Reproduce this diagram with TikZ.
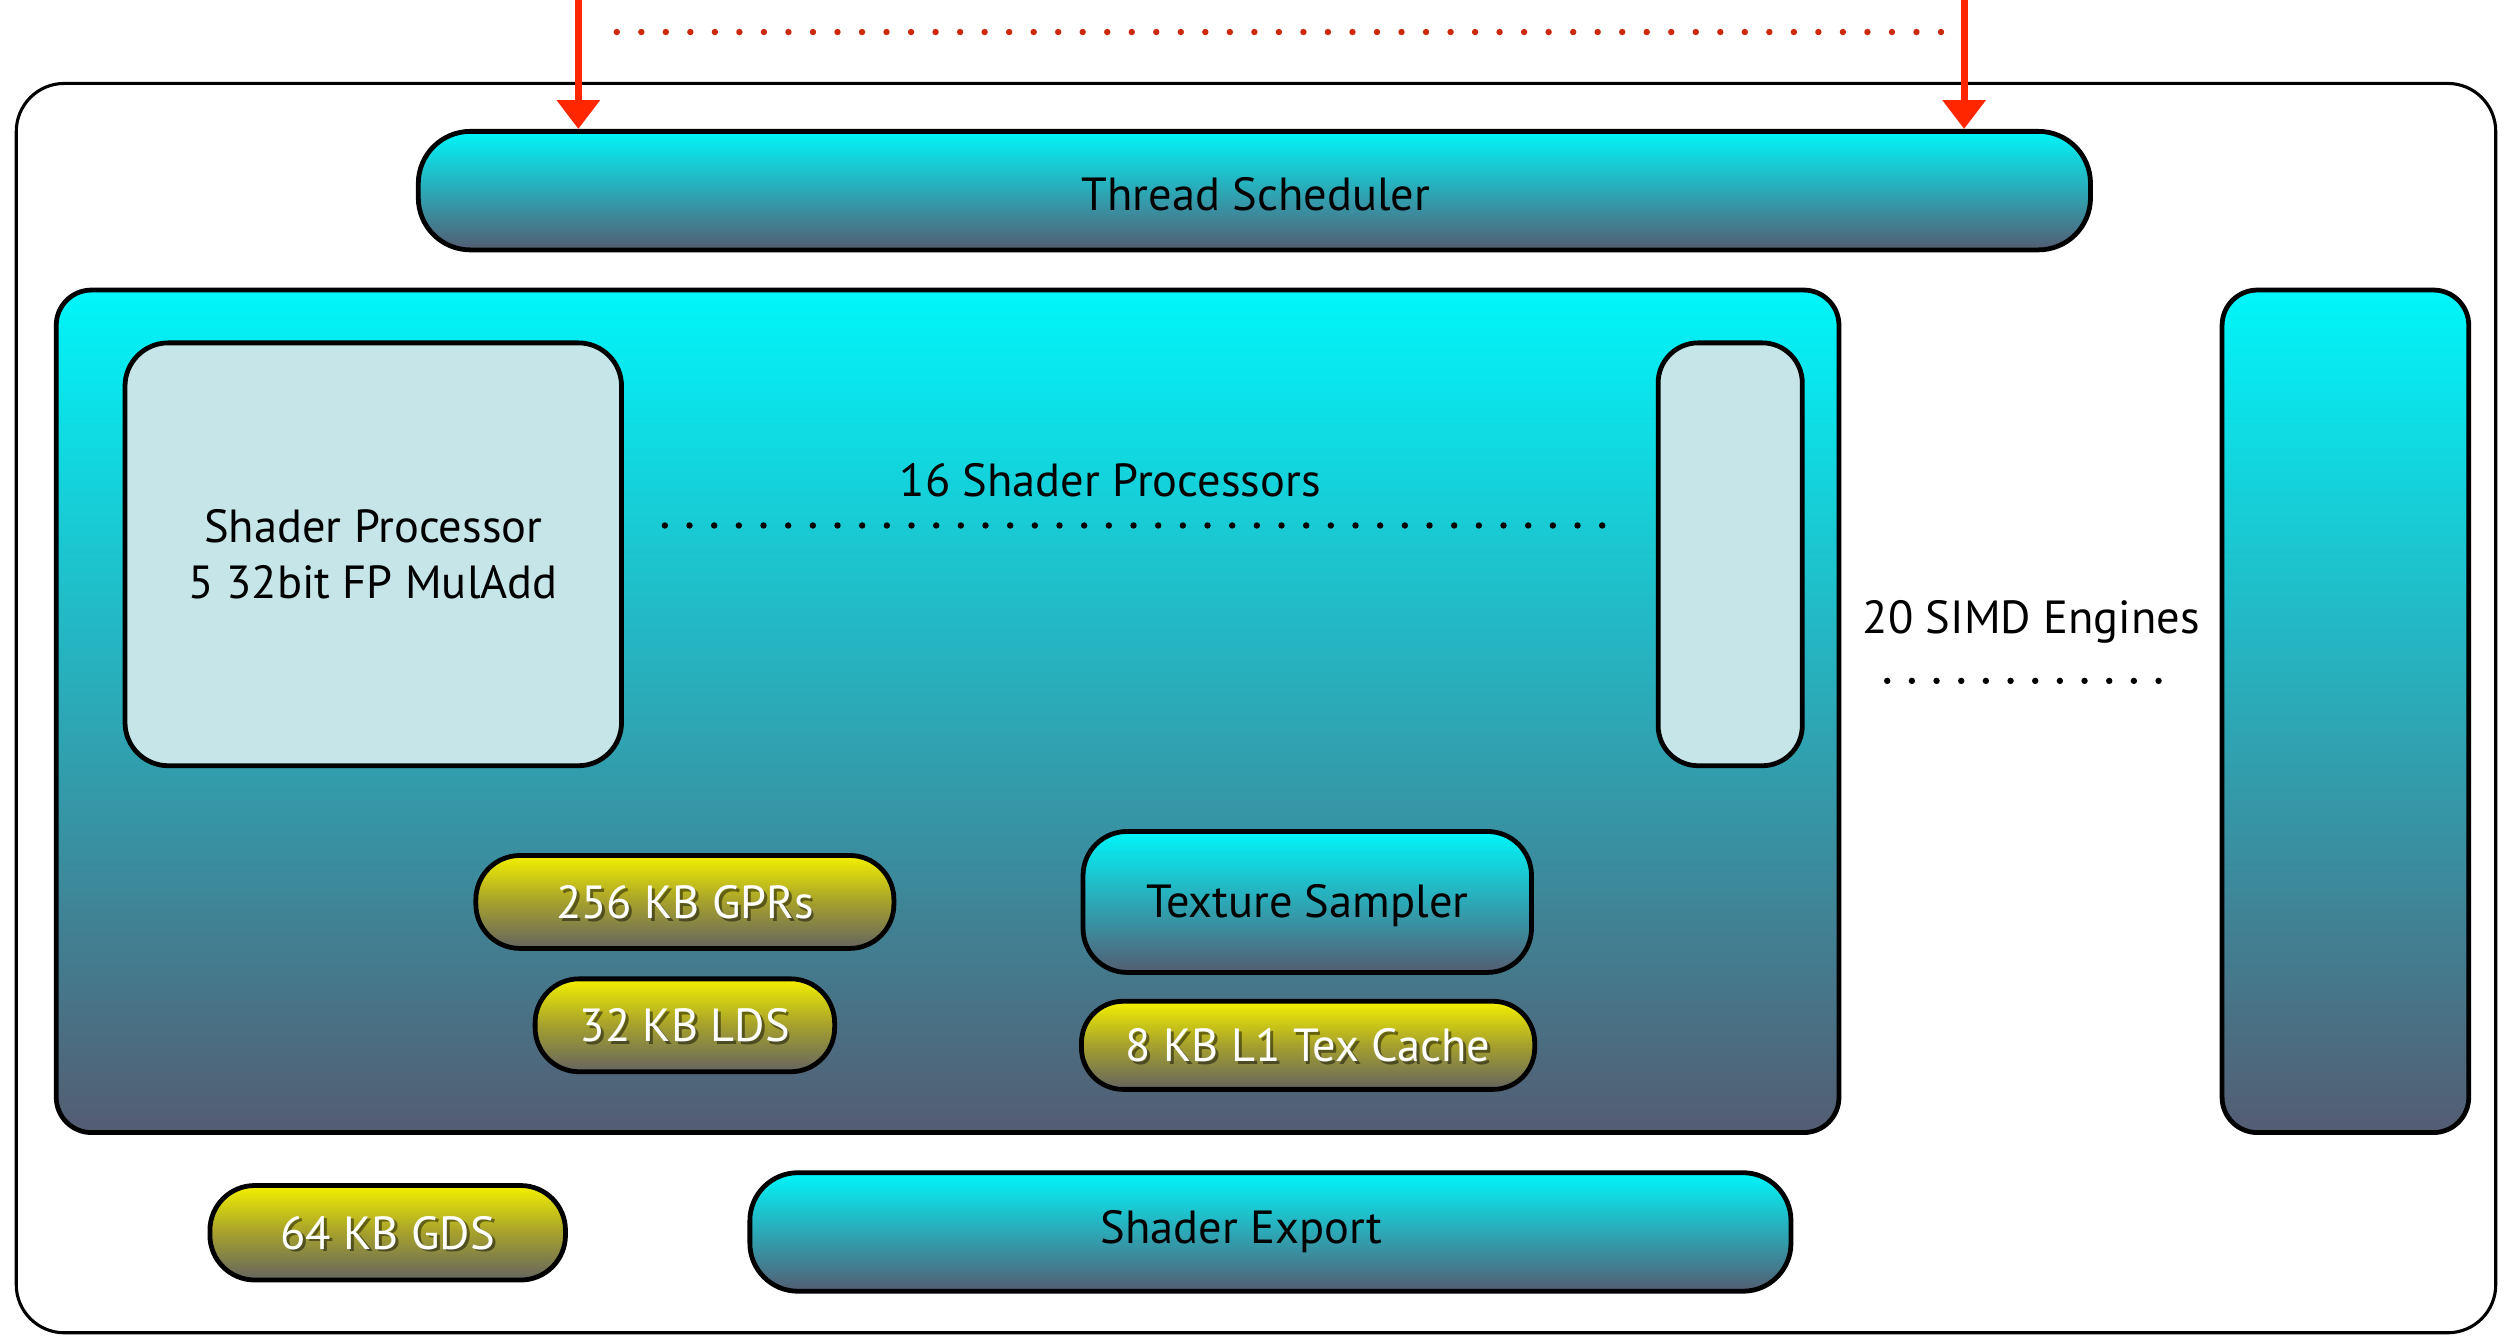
\documentclass[tikz,border=0pt]{standalone}
\usepackage{fontspec}
\setmainfont{PT Sans}
\usetikzlibrary{arrows.meta}
\definecolor{cytop}{RGB}{0,246,250}
\definecolor{cymid}{RGB}{44,168,182}
\definecolor{cybot}{RGB}{84,92,114}
\definecolor{yetop}{RGB}{244,240,0}
\definecolor{yemid}{RGB}{165,160,45}
\definecolor{yebot}{RGB}{100,100,96}
\definecolor{spfill}{RGB}{197,229,232}
\definecolor{arrowred}{RGB}{255,38,0}
\definecolor{dotred}{RGB}{205,40,10}
\begin{document}
\begin{tikzpicture}[x=0.02cm,y=-0.02cm,
  every node/.style={font=\fontsize{16.5}{20}\selectfont, inner sep=0pt, align=center},
  cybox/.style={draw=black, line width=1.7pt, top color=cytop, bottom color=cybot, middle color=cymid, rounded corners=#1},
  ybox/.style={draw=black, line width=1.7pt, top color=yetop, bottom color=yebot, middle color=yemid, rounded corners=#1},
  spbox/.style={draw=black, line width=1.7pt, fill=spfill, rounded corners=#1},
  shadowtxt/.style={text=black, opacity=0.45},
  lighttxt/.style={text=white},
  redarrow/.style={draw=arrowred, line width=0.09cm, -{Triangle[width=0.52cm,length=0.36cm]}},
  reddots/.style={draw=dotred, line width=0.08cm, line cap=round, dash pattern=on 0pt off 0.3062cm},
  blackdots/.style={draw=black, line width=0.08cm, line cap=round, dash pattern=on 0pt off 0.308cm}
]
\useasboundingbox (0,0) rectangle (1568,834);

% outer frame
\node[draw=black, line width=1.1pt, rounded corners=0.6cm, minimum width=30.96cm, minimum height=15.6cm] (outer) at (784,442) {};

% thread scheduler
\node[cybox=0.65cm, minimum width=20.88cm, minimum height=1.48cm] (ts) at (783,119) {};
\node (tstxt) at (784,121) {Thread Scheduler};

% incoming arrows
\coordinate (inL) at (361,0);
\coordinate (inR) at (1226,0);
\draw[redarrow] (inL) -- (inL |- ts.north);
\draw[redarrow] (inR) -- (inR |- ts.north);
\coordinate (rdA) at (385,20);
\coordinate (rdB) at (1214,20);
\draw[reddots] (rdA) -- (rdB);

% SIMD engine
\node[cybox=0.44cm, minimum width=22.26cm, minimum height=10.52cm] (simd) at (591.5,444) {};
\node[spbox=0.54cm, minimum width=6.2cm, minimum height=5.28cm] (sp1) at (233,346) {Shader Processor\\5 32bit FP MulAdd};
\node[spbox=0.5cm, minimum width=1.8cm, minimum height=5.28cm] (sp16) at (1080,346) {};
\node (splabel) at (693,300) {16 Shader Processors};
\coordinate (spdA) at (415,328);
\coordinate (spdB) at (1003,328);
\draw[blackdots] (spdA) -- (spdB);

% memories
\node[ybox=0.55cm, minimum width=5.22cm, minimum height=1.16cm] (gpr) at (427.5,563) {};
\node[shadowtxt] (gprs) at ([shift={(0.035cm,-0.035cm)}]gpr.center) {256 KB GPRs};
\node[lighttxt] (gprt) at (gpr.center) {256 KB GPRs};

\node[ybox=0.55cm, minimum width=3.74cm, minimum height=1.16cm] (lds) at (427.5,640) {};
\node[shadowtxt] (ldss) at ([shift={(0.035cm,-0.035cm)}]lds.center) {32 KB LDS};
\node[lighttxt] (ldst) at (lds.center) {32 KB LDS};

\node[cybox=0.55cm, minimum width=5.6cm, minimum height=1.76cm] (tex) at (816,563) {};
\node (textxt) at (816,565) {Texture Sampler};

\node[ybox=0.52cm, minimum width=5.66cm, minimum height=1.1cm] (l1) at (816.5,652.5) {};
\node[shadowtxt] (l1s) at ([shift={(0.035cm,-0.035cm)}]l1.center) {8 KB L1 Tex Cache};
\node[lighttxt] (l1t) at (l1.center) {8 KB L1 Tex Cache};

% bottom row
\node[ybox=0.56cm, minimum width=4.44cm, minimum height=1.18cm] (gds) at (242,769.5) {};
\node[shadowtxt] (gdss) at ([shift={(0.035cm,-0.035cm)}]gds.center) {64 KB GDS};
\node[lighttxt] (gdst) at (gds.center) {64 KB GDS};

\node[cybox=0.6cm, minimum width=13cm, minimum height=1.48cm] (exp) at (793,769) {};
\node (exptxt) at (775,769) {Shader Export};

% other SIMD engines
\node[cybox=0.44cm, minimum width=3.08cm, minimum height=10.52cm] (simd20) at (1464,444) {};
\node (simdlabel) at (1268,388) {20 SIMD Engines};
\coordinate (sdA) at (1178,425);
\coordinate (sdB) at (1360,425);
\draw[blackdots] (sdA) -- (sdB);
\end{tikzpicture}
\end{document}
